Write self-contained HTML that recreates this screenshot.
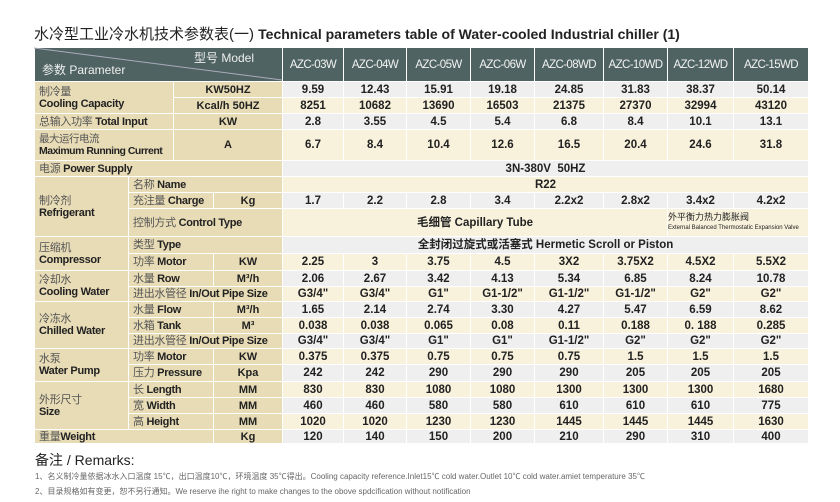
<!DOCTYPE html>
<html><head><meta charset="utf-8"><style>
body{margin:0;width:840px;height:502px;background:#fff;position:relative;overflow:hidden;font-family:"Liberation Sans","Noto Sans CJK SC",sans-serif;}
.title{position:absolute;left:34px;top:23px;font-size:15px;color:#222;white-space:nowrap;}
.title b{font-size:14px;}
table{position:absolute;left:34px;top:47px;border-collapse:collapse;table-layout:fixed;width:775px;}
td{border:1px solid #fff;padding:0;font-size:11px;color:#222;line-height:12px;overflow:hidden;white-space:nowrap;}
.h td{background:#4f6462;color:#f2f2f2;text-align:center;font-size:11.5px;letter-spacing:-0.6px;height:33px;}
.l{background:#e8dcb6;padding-left:4px;font-weight:bold;letter-spacing:-0.3px;}
.u{background:#e8dcb6;text-align:center;font-weight:bold;}
.g td.d{background:#efeff0;}
.c td.d{background:#f8f1dc;}
.d{text-align:center;font-weight:bold;font-size:11.5px;}
.cn{font-weight:normal;color:#555;}
.rem{position:absolute;left:35px;top:450px;font-size:14px;color:#222;}
.n{position:absolute;left:35px;font-size:8px;color:#666;white-space:nowrap;}
</style></head><body>
<div class="title">水冷型工业冷水机技术参数表(一) <b>Technical parameters table of Water-cooled Industrial chiller (1)</b></div>
<svg style="position:absolute;left:34px;top:47px;z-index:2" width="248" height="34"><line x1="0" y1="1" x2="248" y2="33" stroke="#aab" stroke-width="1"/><text x="8" y="27" fill="#eee" font-size="12" font-family="Liberation Sans,Noto Sans CJK SC,sans-serif">参数 Parameter</text><text x="160" y="15" fill="#eee" font-size="12" font-family="Liberation Sans,Noto Sans CJK SC,sans-serif">型号 Model</text></svg>
<table>
<colgroup><col style="width:94px"><col style="width:45px"><col style="width:40px"><col style="width:69px"><col style="width:61px"><col style="width:63px"><col style="width:64px"><col style="width:64px"><col style="width:69px"><col style="width:64px"><col style="width:66px"><col style="width:75px"></colgroup>
<tr class="h"><td colspan="4"></td><td>AZC-03W</td><td>AZC-04W</td><td>AZC-05W</td><td>AZC-06W</td><td>AZC-08WD</td><td>AZC-10WD</td><td>AZC-12WD</td><td>AZC-15WD</td></tr>
<tr class="g" style="height:16px"><td class="l" colspan="2" rowspan="2"><span class="cn">制冷量</span><br>Cooling Capacity</td><td class="u" colspan="2">KW50HZ</td><td class="d">9.59</td><td class="d">12.43</td><td class="d">15.91</td><td class="d">19.18</td><td class="d">24.85</td><td class="d">31.83</td><td class="d">38.37</td><td class="d">50.14</td></tr>
<tr class="c" style="height:16px"><td class="u" colspan="2">Kcal/h 50HZ</td><td class="d">8251</td><td class="d">10682</td><td class="d">13690</td><td class="d">16503</td><td class="d">21375</td><td class="d">27370</td><td class="d">32994</td><td class="d">43120</td></tr>
<tr class="g" style="height:16px"><td class="l" colspan="2"><span class="cn">总输入功率</span> Total Input</td><td class="u" colspan="2">KW</td><td class="d">2.8</td><td class="d">3.55</td><td class="d">4.5</td><td class="d">5.4</td><td class="d">6.8</td><td class="d">8.4</td><td class="d">10.1</td><td class="d">13.1</td></tr>
<tr class="c" style="height:31px"><td class="l" colspan="2" style="font-size:10.5px;letter-spacing:-0.5px"><span class="cn">最大运行电流</span><br>Maximum Running Current</td><td class="u" colspan="2">A</td><td class="d">6.7</td><td class="d">8.4</td><td class="d">10.4</td><td class="d">12.6</td><td class="d">16.5</td><td class="d">20.4</td><td class="d">24.6</td><td class="d">31.8</td></tr>
<tr class="g" style="height:16px"><td class="l" colspan="4"><span class="cn">电源</span> Power Supply</td><td class="d" colspan="8">3N-380V&nbsp; 50HZ</td></tr>
<tr class="c" style="height:16px"><td class="l" rowspan="3"><span class="cn">制冷剂</span><br>Refrigerant</td><td class="l" colspan="3"><span class="cn">名称</span> Name</td><td class="d" colspan="8">R22</td></tr>
<tr class="g" style="height:16px"><td class="l" colspan="2"><span class="cn">充注量</span> Charge</td><td class="u">Kg</td><td class="d">1.7</td><td class="d">2.2</td><td class="d">2.8</td><td class="d">3.4</td><td class="d">2.2x2</td><td class="d">2.8x2</td><td class="d">3.4x2</td><td class="d">4.2x2</td></tr>
<tr class="c" style="height:28px"><td class="l" colspan="3"><span class="cn">控制方式</span> Control Type</td><td class="d" colspan="6">毛细管 Capillary Tube</td><td class="d" colspan="2" style="text-align:left;font-weight:normal;font-size:9px;line-height:9px">外平衡力热力膨胀阀<br><span style="font-size:6px">External Balanced Thermostatic Expansion Valve</span></td></tr>
<tr class="g" style="height:17px"><td class="l" rowspan="2"><span class="cn">压缩机</span><br>Compressor</td><td class="l" colspan="3"><span class="cn">类型</span> Type</td><td class="d" colspan="8">全封闭过旋式或活塞式 Hermetic Scroll or Piston</td></tr>
<tr class="c" style="height:17px"><td class="l" colspan="2"><span class="cn">功率</span> Motor</td><td class="u">KW</td><td class="d">2.25</td><td class="d">3</td><td class="d">3.75</td><td class="d">4.5</td><td class="d">3X2</td><td class="d">3.75X2</td><td class="d">4.5X2</td><td class="d">5.5X2</td></tr>
<tr class="g" style="height:16px"><td class="l" rowspan="2"><span class="cn">冷却水</span><br>Cooling Water</td><td class="l" colspan="2"><span class="cn">水量</span> Row</td><td class="u">M³/h</td><td class="d">2.06</td><td class="d">2.67</td><td class="d">3.42</td><td class="d">4.13</td><td class="d">5.34</td><td class="d">6.85</td><td class="d">8.24</td><td class="d">10.78</td></tr>
<tr class="c" style="height:15px"><td class="l" colspan="3"><span class="cn">进出水管径</span> In/Out Pipe Size</td><td class="d">G3/4"</td><td class="d">G3/4"</td><td class="d">G1"</td><td class="d">G1-1/2"</td><td class="d">G1-1/2"</td><td class="d">G1-1/2"</td><td class="d">G2"</td><td class="d">G2"</td></tr>
<tr class="g" style="height:16px"><td class="l" rowspan="3"><span class="cn">冷冻水</span><br>Chilled Water</td><td class="l" colspan="2"><span class="cn">水量</span> Flow</td><td class="u">M³/h</td><td class="d">1.65</td><td class="d">2.14</td><td class="d">2.74</td><td class="d">3.30</td><td class="d">4.27</td><td class="d">5.47</td><td class="d">6.59</td><td class="d">8.62</td></tr>
<tr class="c" style="height:16px"><td class="l" colspan="2"><span class="cn">水箱</span> Tank</td><td class="u">M³</td><td class="d">0.038</td><td class="d">0.038</td><td class="d">0.065</td><td class="d">0.08</td><td class="d">0.11</td><td class="d">0.188</td><td class="d">0. 188</td><td class="d">0.285</td></tr>
<tr class="g" style="height:15px"><td class="l" colspan="3"><span class="cn">进出水管径</span> In/Out Pipe Size</td><td class="d">G3/4"</td><td class="d">G3/4"</td><td class="d">G1"</td><td class="d">G1"</td><td class="d">G1-1/2"</td><td class="d">G2"</td><td class="d">G2"</td><td class="d">G2"</td></tr>
<tr class="c" style="height:16px"><td class="l" rowspan="2"><span class="cn">水泵</span><br>Water Pump</td><td class="l" colspan="2"><span class="cn">功率</span> Motor</td><td class="u">KW</td><td class="d">0.375</td><td class="d">0.375</td><td class="d">0.75</td><td class="d">0.75</td><td class="d">0.75</td><td class="d">1.5</td><td class="d">1.5</td><td class="d">1.5</td></tr>
<tr class="g" style="height:17px"><td class="l" colspan="2"><span class="cn">压力</span> Pressure</td><td class="u">Kpa</td><td class="d">242</td><td class="d">242</td><td class="d">290</td><td class="d">290</td><td class="d">290</td><td class="d">205</td><td class="d">205</td><td class="d">205</td></tr>
<tr class="c" style="height:16px"><td class="l" rowspan="3"><span class="cn">外形尺寸</span><br>Size</td><td class="l" colspan="2"><span class="cn">长</span> Length</td><td class="u">MM</td><td class="d">830</td><td class="d">830</td><td class="d">1080</td><td class="d">1080</td><td class="d">1300</td><td class="d">1300</td><td class="d">1300</td><td class="d">1680</td></tr>
<tr class="g" style="height:16px"><td class="l" colspan="2"><span class="cn">宽</span> Width</td><td class="u">MM</td><td class="d">460</td><td class="d">460</td><td class="d">580</td><td class="d">580</td><td class="d">610</td><td class="d">610</td><td class="d">610</td><td class="d">775</td></tr>
<tr class="c" style="height:16px"><td class="l" colspan="2"><span class="cn">高</span> Height</td><td class="u">MM</td><td class="d">1020</td><td class="d">1020</td><td class="d">1230</td><td class="d">1230</td><td class="d">1445</td><td class="d">1445</td><td class="d">1445</td><td class="d">1630</td></tr>
<tr class="g" style="height:14px"><td class="l" colspan="3"><span class="cn">重量</span>Weight</td><td class="u">Kg</td><td class="d">120</td><td class="d">140</td><td class="d">150</td><td class="d">200</td><td class="d">210</td><td class="d">290</td><td class="d">310</td><td class="d">400</td></tr>
</table>
<div class="rem">备注 / Remarks:</div>
<div class="n" style="top:471px">1、名义制冷量依据冰水入口温度 15℃，出口温度10℃，环境温度 35℃得出。Cooling capacity reference.Inlet15℃ cold water.Outlet 10℃ cold water.amiet temperature 35℃</div>
<div class="n" style="top:486px">2、目录规格如有变更，恕不另行通知。We reserve ihe right to make changes to the obove spdcification without notification</div>
</body></html>
